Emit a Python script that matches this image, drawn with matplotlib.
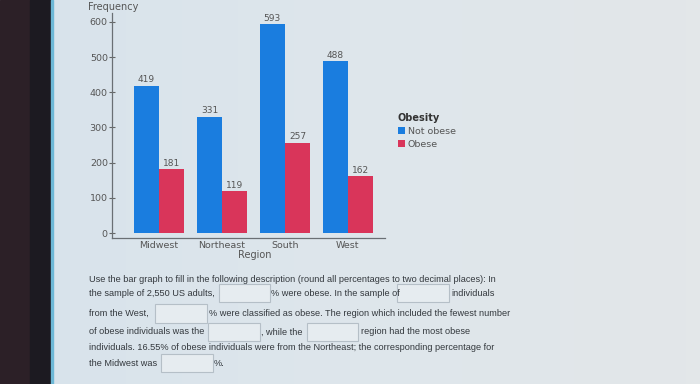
import numpy as np
import matplotlib.pyplot as plt
from matplotlib.patches import Rectangle

regions = ["Midwest", "Northeast", "South", "West"]
not_obese = [419, 331, 593, 488]
obese = [181, 119, 257, 162]
series_names = ["Not obese", "Obese"]
y_ticks = [0, 100, 200, 300, 400, 500, 600]

W, H = 700, 384
fig = plt.figure(figsize=(7, 3.84), dpi=100)


def fx(px):
    return px / W


def fy(py):
    return 1 - py / H


# photo background: light screen with dark bezel on the left
bg = fig.add_axes([0, 0, 1, 1], zorder=-5)
grad = np.linspace(0, 1, 50).reshape(1, -1)
bg.imshow(grad, aspect="auto", cmap=plt.matplotlib.colors.LinearSegmentedColormap.from_list(
    "bg", ["#d8e3eb", "#dee6ec", "#e3e7e9"]), extent=[0, 1, 0, 1])
bg.set_xlim(0, 1)
bg.set_ylim(0, 1)
bg.axis("off")
bg.add_patch(Rectangle((0, 0), fx(30), 1, color="#2c2027"))
bg.add_patch(Rectangle((fx(30), 0), fx(21), 1, color="#1c1a21"))
bg.add_patch(Rectangle((fx(51), 0), fx(2), 1, color="#6db8d6"))

ax = fig.add_axes([fx(112), fy(238), fx(385) - fx(112), fy(13) - fy(238)])
ax.set_facecolor("none")

x = np.arange(len(regions))
w = 0.4
blue = "#1a7ddf"
red = "#d9355a"
b1 = ax.bar(x - w / 2, not_obese, w, color=blue, label=series_names[0])
b2 = ax.bar(x + w / 2, obese, w, color=red, label=series_names[1])
for bars, vals in [(b1, not_obese), (b2, obese)]:
    for r, v in zip(bars, vals):
        ax.text(r.get_x() + r.get_width() / 2, v + 4, str(v), ha="center", va="bottom",
                fontsize=6.5, color="#555555")

ax.set_xlim(-0.75, 3.59)
ax.set_ylim(-14, 625)
ax.set_yticks(y_ticks)
ax.set_xticks(x)
ax.set_xticklabels(regions)
ax.tick_params(axis="y", direction="inout", length=4, width=0.8, colors="#666666",
               labelsize=6.8, pad=1, labelcolor="#555555")
ax.tick_params(axis="x", length=0, labelsize=6.8, pad=2, labelcolor="#555555")
for s in ["top", "right"]:
    ax.spines[s].set_visible(False)
for s in ["left", "bottom"]:
    ax.spines[s].set_color("#6a6f74")
    ax.spines[s].set_linewidth(0.9)

fig.text(fx(88), fy(7), "Frequency", fontsize=7, color="#555555", va="center")
fig.text(fx(255), fy(255), "Region", fontsize=7, color="#555555", ha="center", va="center")

leg = ax.legend(loc="upper left", bbox_to_anchor=(fx(393), fy(108)), bbox_transform=fig.transFigure,
                frameon=False, title="Obesity", fontsize=6.8, handlelength=0.75, handleheight=0.75,
                handletextpad=0.3, labelspacing=0.45, borderpad=0, alignment="left",
                title_fontproperties={"weight": "bold", "size": 7})
for t in leg.get_texts():
    t.set_color("#555555")
leg.get_title().set_color("#333333")

# question text under the chart
tcol = "#33383d"
fs = 6.6
font = "Liberation Sans"
segments = [
    (89, 279, "Use the bar graph to fill in the following description (round all percentages to two decimal places): In"),
    (89, 293, "the sample of 2,550 US adults,"),
    (271, 293, "% were obese. In the sample of"),
    (451, 293, "individuals"),
    (89, 313, "from the West,"),
    (209, 313, "% were classified as obese. The region which included the fewest number"),
    (89, 332, "of obese individuals was the"),
    (261, 332, ", while the"),
    (361, 332, "region had the most obese"),
    (89, 348, "individuals. 16.55% of obese individuals were from the Northeast; the corresponding percentage for"),
    (89, 364, "the Midwest was"),
    (214, 364, "%."),
]
for px, py, s in segments:
    fig.text(fx(px), fy(py), s, fontsize=fs, color=tcol, va="center", family=font)

boxes = [(219, 284, 270, 302), (397, 284, 449, 302), (155, 304, 207, 323),
         (208, 323, 260, 341), (307, 323, 358, 341), (161, 354, 213, 372)]
for x0, y0, x1, y1 in boxes:
    bg.add_patch(Rectangle((fx(x0), fy(y1)), fx(x1 - x0), fy(y0) - fy(y1),
                           facecolor="#e6ecf0", edgecolor="#b5bfc7", linewidth=0.8))

fig.savefig("out.png", dpi=100)
